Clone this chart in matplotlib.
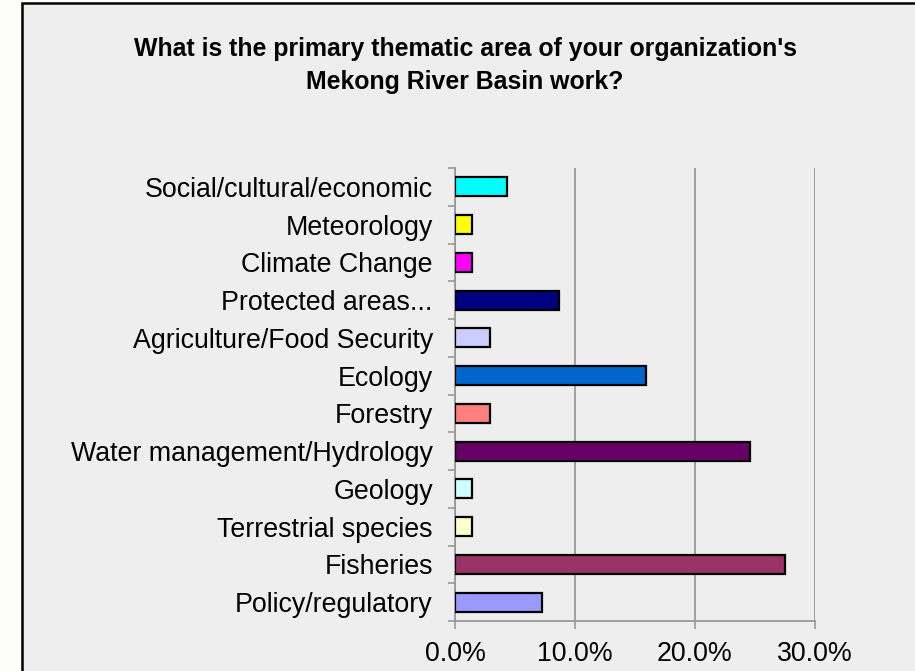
import matplotlib
matplotlib.use("Agg")
import matplotlib.pyplot as plt
from matplotlib.patches import Rectangle
from matplotlib.ticker import FixedLocator, FuncFormatter

categories = ["Social/cultural/economic", "Meteorology", "Climate Change",
              "Protected areas...", "Agriculture/Food Security", "Ecology",
              "Forestry", "Water management/Hydrology", "Geology",
              "Terrestrial species", "Fisheries", "Policy/regulatory"]
values = [4.35, 1.45, 1.45, 8.7, 2.9, 15.9, 2.9, 24.6, 1.45, 1.45, 27.5, 7.25]
colors = ["#00FFFF", "#FFFF00", "#FF00FF", "#000080", "#CCCCFF", "#0066CC",
          "#FF8080", "#660066", "#CCFFFF", "#FFFFCC", "#993366", "#9999FF"]
xticks = [0, 10, 20, 30]
title = "What is the primary thematic area of your organization's\nMekong River Basin work?"

W, H = 915, 671
fig = plt.figure(figsize=(W / 100, H / 100), dpi=100)
fig.patch.set_facecolor("#FDFDFB")
bg = Rectangle((22 / W, -0.1), 1.2, 1 - 3 / H + 0.1, transform=fig.transFigure,
               facecolor="#EEEEEE", edgecolor="black", linewidth=1.8, zorder=-10)
fig.patches.append(bg)

ax = fig.add_axes([455 / W, 1 - 621 / H, (815 - 455) / W, (621 - 168) / H])
ax.set_zorder(5)
ax.set_facecolor("none")
n = len(categories)
ypos = list(range(n))
ax.barh(ypos, values, height=0.5, color=colors, edgecolor="black", linewidth=1.6, zorder=3)
ax.set_xlim(0, 30)
ax.set_ylim(n - 0.5, -0.5)

ax.set_yticks(ypos)
ax.set_yticklabels(categories, fontsize=19.3, family="Liberation Sans")
ax.tick_params(axis="y", which="major", length=0, pad=16)
ax.yaxis.set_minor_locator(FixedLocator([i - 0.5 for i in range(n + 1)]))
ax.tick_params(axis="y", which="minor", length=5, width=1.2, color="#999999")

ax.set_xticks(xticks)
ax.xaxis.set_major_formatter(FuncFormatter(lambda v, p: f"{v:.1f}%"))
ax.tick_params(axis="x", which="major", length=6, width=1.2, color="#999999",
               labelsize=19.3, pad=8.5)
for lab in ax.get_xticklabels():
    lab.set_family("Liberation Sans")

ax.grid(axis="x", color="#999999", linewidth=1.3, zorder=1)
for s in ["top", "right"]:
    ax.spines[s].set_visible(False)
for s in ["left", "bottom"]:
    ax.spines[s].set_color("#999999")
    ax.spines[s].set_linewidth(1.3)

fig.text(465 / W, 1 - 65.5 / H, title, ha="center", va="center", fontsize=17.9,
         fontweight="bold", family="Liberation Sans", linespacing=1.5)

fig.savefig("out.png", dpi=100, facecolor=fig.get_facecolor())
